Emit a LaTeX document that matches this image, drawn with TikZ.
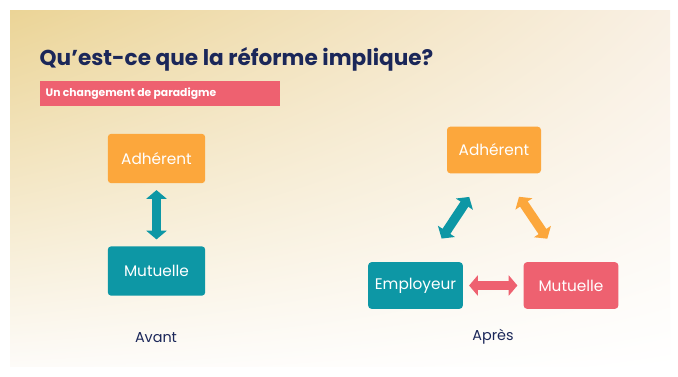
\documentclass[tikz,border=0pt]{standalone}
\usepackage{fontspec}
\setmainfont{Poppins}
\usetikzlibrary{arrows.meta,shadings}

\definecolor{navy}{HTML}{1B2759}
\definecolor{orng}{HTML}{FCA73C}
\definecolor{turq}{HTML}{0D97A5}
\definecolor{rouge}{HTML}{EE6170}
\definecolor{fondA}{RGB}{235,212,150}
\definecolor{fondB}{RGB}{249,240,228}
\definecolor{fondC}{RGB}{253,251,248}

\tikzset{
  boite/.style={rounded corners=2.5pt, minimum width=72pt, minimum height=36pt, text=white, font=\fontsize{11.5}{14}\selectfont},
  fleche/.style={line width=7pt, {Triangle[length=6.5pt,width=15pt]}-{Triangle[length=6.5pt,width=15pt]}},
  legende/.style={text=navy, font=\fontsize{10.8}{12}\selectfont}
}

\begin{document}
\begin{tikzpicture}[x=0.75pt,y=-0.75pt]

\useasboundingbox (0,0) rectangle (678,376);
\fill[white] (0,0) rectangle (678,376);
\shade[upper left=fondA, upper right=fondB, lower left=fondC, lower right=white] (10,10) rectangle (670,366);

\node [anchor=base west,text=navy,font=\bfseries\fontsize{16.2}{19}\selectfont] (titre) at (35,65) {Qu’est-ce que la réforme implique?};
\fill [rouge] (40,81) rectangle (280,106);
\node [anchor=west,text=white,font=\bfseries\fontsize{8.1}{10}\selectfont] (sous) at (41,94) {Un changement de paradigme};

% avant
\node [boite,fill=orng,minimum width=73pt,minimum height=37pt] (adhA) at (156.5,158.5) {Adhérent};
\node [boite,fill=turq,minimum width=73pt,minimum height=37pt] (mutA) at (156.5,271) {Mutuelle};
\draw [fleche,turq,shorten <=5pt,shorten >=5pt] (adhA) -- (mutA);
\node [legende] (avant) at (156,338) {Avant};

% apres
\node [boite,fill=orng,minimum width=70.5pt,minimum height=35pt] (adhB) at (494,150) {Adhérent};
\node [boite,fill=turq,minimum width=71pt,minimum height=35pt] (emp) at (415.5,285.5) {Employeur};
\node [boite,fill=rouge,minimum width=71pt,minimum height=35pt] (mutB) at (571,285.5) {Mutuelle};
\draw [fleche,turq,shorten <=21pt,shorten >=21pt] ([xshift=8pt]emp.north) -- ([xshift=-7pt]adhB.south);
\draw [fleche,orng,shorten <=21pt,shorten >=21pt] ([xshift=7pt]adhB.south) -- ([xshift=-6pt]mutB.north);
\draw [fleche,rouge,shorten <=4.5pt,shorten >=4.5pt] (emp) -- (mutB);
\node [legende] (apres) at (493,337) {Après};

\end{tikzpicture}
\end{document}
